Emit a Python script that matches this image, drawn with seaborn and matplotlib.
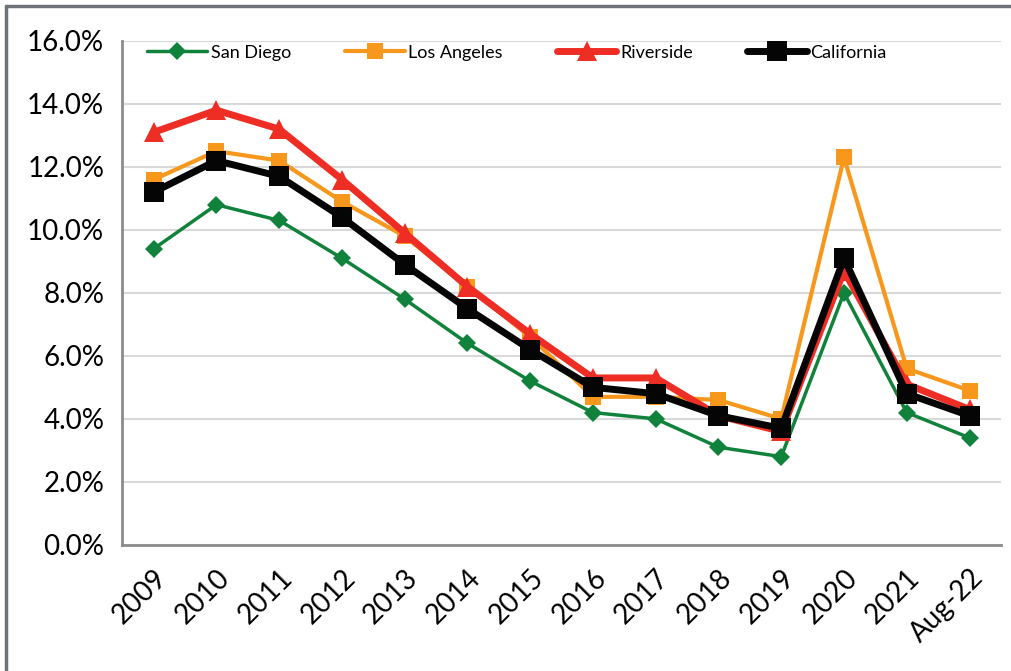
import pandas as pd
import matplotlib.pyplot as plt
import seaborn as sns
import numpy as np
from matplotlib.ticker import FuncFormatter, MultipleLocator

# Configuración visual común para la figura
sns.set_theme(style="white")
plt.rcParams['font.family'] = ['Lato', 'DejaVu Sans']
plt.rcParams['text.color'] = 'black'
plt.rcParams['xtick.color'] = 'black'
plt.rcParams['ytick.color'] = 'black'

# Tasas de desempleo anuales (%)
periodos = ['2009', '2010', '2011', '2012', '2013', '2014', '2015',
            '2016', '2017', '2018', '2019', '2020', '2021', 'Aug-22']
tasas = {
    'San Diego':   [9.4, 10.8, 10.3, 9.1, 7.8, 6.4, 5.2, 4.2, 4.0, 3.1, 2.8, 8.0, 4.2, 3.4],
    'Los Angeles': [11.6, 12.5, 12.2, 10.9, 9.8, 8.2, 6.6, 4.7, 4.7, 4.6, 4.0, 12.3, 5.6, 4.9],
    'Riverside':   [13.1, 13.8, 13.2, 11.6, 9.9, 8.2, 6.7, 5.3, 5.3, 4.1, 3.6, 8.7, 5.1, 4.3],
    'California':  [11.2, 12.2, 11.7, 10.4, 8.9, 7.5, 6.2, 5.0, 4.8, 4.1, 3.7, 9.1, 4.8, 4.1],
}

# Estilo por serie: color, marcador, tamaño de marcador, grosor de línea
estilos = {
    'San Diego':   ('#11823B', 'D', 9, 2.5),
    'Los Angeles': ('#F7981D', 's', 11, 3),
    'Riverside':   ('#EE2D24', '^', 14, 5),
    'California':  ('#050505', 's', 14, 5),
}


def generate_unemployment_chart():
    df = pd.DataFrame(tasas)
    df['idx'] = np.arange(len(periodos))

    fig = plt.figure(figsize=(10.11, 6.71), dpi=100)
    ax = fig.add_axes([0.121, 0.188, 0.869, 0.751])

    for serie, (color, marker, ms, lw) in estilos.items():
        sns.lineplot(data=df, x='idx', y=serie, color=color, marker=marker,
                     markersize=ms, linewidth=lw, markeredgewidth=0,
                     label=serie, ax=ax)

    # Ejes estilo hoja de cálculo
    ax.set_xlim(-0.5, len(periodos) - 0.5)
    ax.set_ylim(0, 16)
    ax.yaxis.set_major_locator(MultipleLocator(2))
    ax.yaxis.set_major_formatter(FuncFormatter(lambda v, _: f'{v:.1f}%'))
    ax.set_xticks(np.arange(len(periodos)))
    ax.set_xticklabels(periodos, rotation=45, ha='right', rotation_mode='anchor')
    ax.set_xticks(np.arange(-0.5, len(periodos)), minor=True)
    ax.tick_params(axis='x', which='major', length=0, pad=14, labelsize=20)
    ax.tick_params(axis='x', which='minor', length=8, width=2, color='#8c8c8c')
    ax.tick_params(axis='y', length=7, width=2, color='#8c8c8c', labelsize=20, pad=6)
    ax.set_xlabel('')
    ax.set_ylabel('')

    ax.grid(axis='y', color='#d9d9d9', linewidth=1.5)
    ax.set_axisbelow(True)
    for lado in ['top', 'right']:
        ax.spines[lado].set_visible(False)
    for lado in ['left', 'bottom']:
        ax.spines[lado].set_color('#8c8c8c')
        ax.spines[lado].set_linewidth(2)

    ax.legend(loc='upper left', bbox_to_anchor=(0.01, 1.025), ncol=4, frameon=False,
              fontsize=13, handlelength=3.3, handletextpad=0.2, columnspacing=3.0)

    # Marco gris (superior e izquierdo) de la figura
    fig.add_artist(plt.Line2D([0.006, 1], [0.991, 0.991], transform=fig.transFigure,
                              color='#6d7378', linewidth=2.5))
    fig.add_artist(plt.Line2D([0.006, 0.006], [0, 0.991], transform=fig.transFigure,
                              color='#6d7378', linewidth=2.5))

    fig.savefig('out.png', dpi=100)


if __name__ == "__main__":
    generate_unemployment_chart()
